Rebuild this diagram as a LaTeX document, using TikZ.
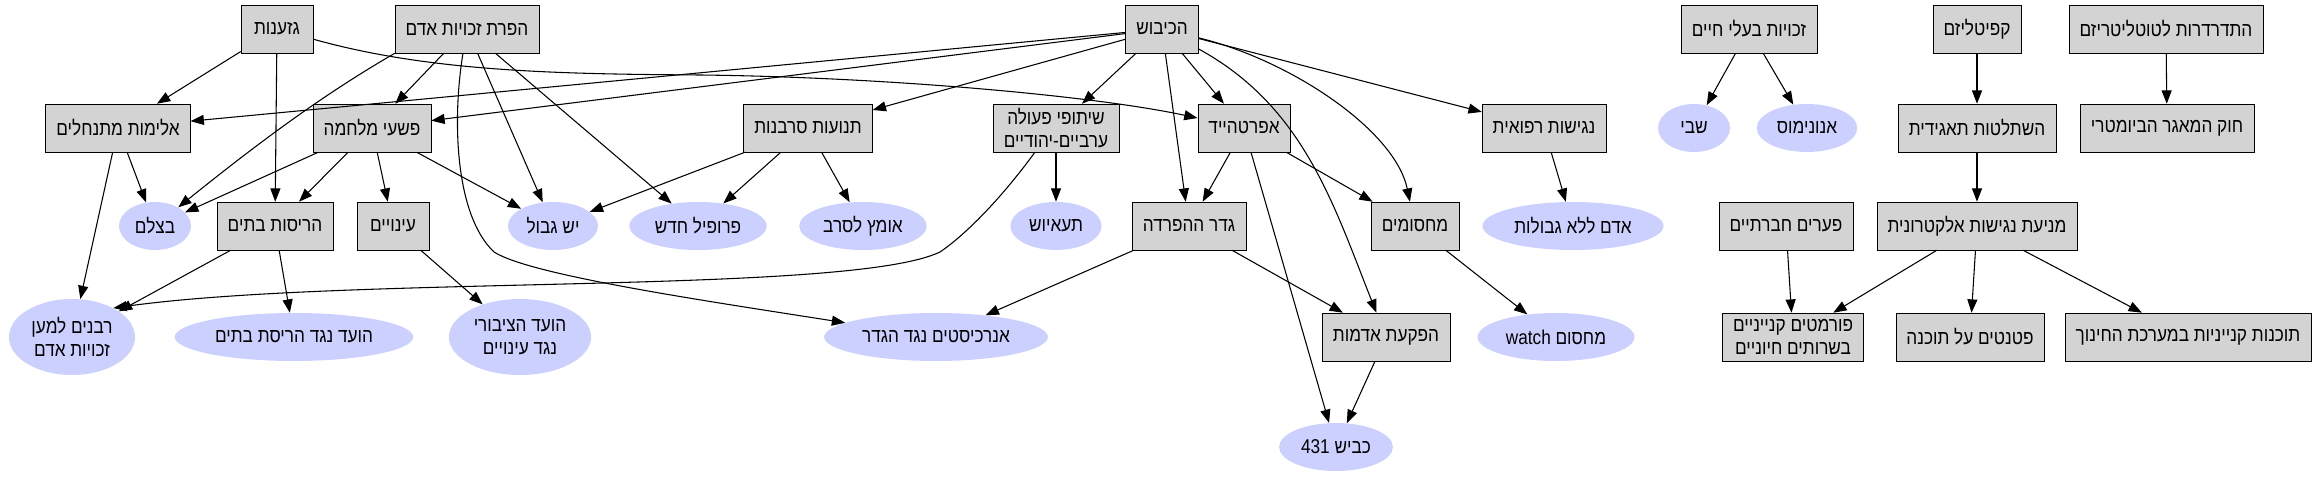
\documentclass[tikz,border=0pt]{standalone}
\usepackage{fontspec}
\usepackage{xcolor}
\usepackage{tikz}
\usetikzlibrary{arrows.meta,shapes.geometric,calc}
\newfontfamily\hebfont[Script=Hebrew,FakeStretch=0.86]{Liberation Sans}
\TeXXeTstate=1
\newcommand{\heb}[1]{\beginR #1\endR}
\definecolor{boxgray}{RGB}{211,211,211}
\definecolor{orgblue}{RGB}{204,208,255}

\begin{document}
\begin{tikzpicture}[
    >={Triangle[length=10pt,width=7.5pt]},
    x=0.75pt, y=-0.75pt,
    issue/.style={draw=black,fill=boxgray,minimum width=54pt,minimum height=36pt,
                  inner xsep=8pt,inner ysep=2pt,align=center,
                  font=\hebfont\fontsize{15}{17.5}\selectfont},
    org/.style={ellipse,fill=orgblue,minimum width=54pt,minimum height=36pt,
                inner xsep=4pt,inner ysep=0pt,align=center,
                font=\hebfont\fontsize{15}{17.5}\selectfont},
    tallorg/.style={org,minimum height=57pt,inner xsep=3pt},
    link/.style={->,line width=0.8pt},
  ]
  \useasboundingbox (0,0) rectangle (2313,477);

  % Pixel grid of the original layout (y grows downward), one row per rank.

  % --- rank 1: root topics ---
  \node[issue] (gz)      at (277,29)  {\heb{גזענות}};
  \node[issue] (hafarat) at (467,29)  {\heb{הפרת זכויות אדם}};
  \node[issue] (kibush)  at (1162,29) {\heb{הכיבוש}};
  \node[issue] (zchuyot) at (1749,29) {\heb{זכויות בעלי חיים}};
  \node[issue] (capital) at (1977,29) {\heb{קפיטליזם}};
  \node[issue] (totali)  at (2166,29) {\heb{התדרדרות לטוטליטריזם}};

  % --- rank 2 ---
  \node[issue] (alim)      at (118,128)  {\heb{אלימות מתנחלים}};
  \node[issue] (pishei)    at (372,128)  {\heb{פשעי מלחמה}};
  \node[issue] (tnuot)     at (808,128)  {\heb{תנועות סרבנות}};
  \node[issue] (shituf)    at (1056,128) {\heb{שיתופי פעולה}\\\heb{ערביים-יהודיים}};
  \node[issue] (apartheid) at (1244,128) {\heb{אפרטהייד}};
  \node[issue] (negishut)  at (1544,128) {\heb{נגישות רפואית}};
  \node[org]   (shevi)     at (1694,128) {\heb{שבי}};
  \node[org]   (anon)      at (1807,128) {\heb{אנונימוס}};
  \node[issue] (tagid)     at (1977,128) {\heb{השתלטות תאגידית}};
  \node[issue] (biometri)  at (2167,128) {\heb{חוק המאגר הביומטרי}};

  % --- rank 3 ---
  \node[org]   (btselem) at (155,226)  {\heb{בצלם}};
  \node[issue] (harisot) at (275,226)  {\heb{הריסות בתים}};
  \node[issue] (inuyim)  at (393,226)  {\heb{עינויים}};
  \node[org]   (yesh)    at (553,226)  {\heb{יש גבול}};
  \node[org]   (profil)  at (698,226)  {\heb{פרופיל חדש}};
  \node[org]   (omets)   at (863,226)  {\heb{אומץ לסרב}};
  \node[org]   (teush)   at (1056,226) {\heb{תעאיוש}};
  \node[issue] (geder)   at (1189,226) {\heb{גדר ההפרדה}};
  \node[issue] (machsom) at (1415,226) {\heb{מחסומים}};
  \node[org]   (adam)    at (1573,226) {\heb{אדם ללא גבולות}};
  \node[issue] (paarim)  at (1786,226) {\heb{פערים חברתיים}};
  \node[issue] (mniat)   at (1977,226) {\heb{מניעת נגישות אלקטרונית}};

  % --- rank 4 ---
  \node[tallorg] (rabanim)    at (72,337)   {\heb{רבנים למען}\\\heb{זכויות אדם}};
  \node[org]     (vaadbatim)  at (294,337)  {\heb{הועד נגד הריסת בתים}};
  \node[tallorg] (vaadinuyim) at (520,337)  {\heb{הועד הציבורי}\\\heb{נגד עינויים}};
  \node[org]     (anarch)     at (936,337)  {\heb{אנרכיסטים נגד הגדר}};
  \node[issue]   (hafkaat)    at (1386,337) {\heb{הפקעת אדמות}};
  \node[org]     (watch)      at (1556,337) {\heb{מחסום \beginL watch\endL}};
  \node[issue]   (formatim)   at (1793,337) {\heb{פורמטים קנייניים}\\\heb{בשרותים חיוניים}};
  \node[issue]   (patentim)   at (1970,337) {\heb{פטנטים על תוכנה}};
  \node[issue]   (tochnot)    at (2188,337) {\heb{תוכנות קנייניות במערכת החינוך}};

  % --- rank 5 ---
  \node[org] (kvish) at (1336,447) {\heb{כביש \beginL 431\endL}};

  % --- racism ---
  \draw[link] (gz) -- (alim);
  \draw[link] (gz) -- (harisot);
  \draw[link] (gz) .. controls (430,72) and (560,74) .. (700,75)
                   .. controls (880,77) and (1090,95) .. (apartheid);

  % --- human rights violation ---
  \draw[link] (hafarat.south west) .. controls (319,97) and (252,148) .. (btselem);
  \draw[link] (hafarat) -- (pishei);
  \draw[link] (hafarat) .. controls (452,120) and (455,215) .. (494,252)
                        .. controls (530,275) and (700,300) .. (anarch);
  \draw[link] (hafarat) -- (yesh);
  \draw[link] (hafarat) -- (profil);

  % --- occupation fans out over the middle ---
  \foreach \t in {alim,pishei,tnuot,shituf,geder,apartheid,negishut} { \draw[link] (kibush) -- (\t); }
  \draw[link] (kibush) .. controls (1290,60) and (1395,130) .. (machsom);
  \draw[link] (kibush) .. controls (1303,106) and (1333,203) .. (hafkaat);

  % --- settler violence and war crimes ---
  \draw[link] (alim) -- (rabanim);
  \draw[link] (alim) -- (btselem);
  \foreach \t in {btselem,harisot,inuyim,yesh} { \draw[link] (pishei) -- (\t); }
  \draw[link] (harisot) -- (rabanim);
  \draw[link] (harisot) -- (vaadbatim);
  \draw[link] (inuyim) -- (vaadinuyim);

  % --- refusal and cooperation ---
  \foreach \t in {yesh,profil,omets} { \draw[link] (tnuot) -- (\t); }
  \draw[link] (shituf) -- (teush);
  \draw[link] (shituf.229) .. controls (1000,200) and (965,235) .. (940,252)
                           .. controls (850,295) and (350,275) .. (rabanim.35);

  % --- apartheid, fence, checkpoints ---
  \foreach \t in {geder,machsom,kvish} { \draw[link] (apartheid) -- (\t); }
  \draw[link] (geder) -- (anarch);
  \draw[link] (geder) -- (hafkaat);
  \draw[link] (machsom) -- (watch);
  \draw[link] (hafkaat) -- (kvish);
  \draw[link] (negishut) -- (adam);

  % --- right-hand clusters ---
  \draw[link] (zchuyot) -- (shevi);
  \draw[link] (zchuyot) -- (anon);
  \draw[link] (capital) -- (tagid);
  \draw[link] (tagid) -- (mniat);
  \draw[link] (totali) -- (biometri);
  \foreach \t in {formatim,patentim,tochnot} { \draw[link] (mniat) -- (\t); }
  \draw[link] (paarim) -- (formatim);

\end{tikzpicture}
\end{document}
